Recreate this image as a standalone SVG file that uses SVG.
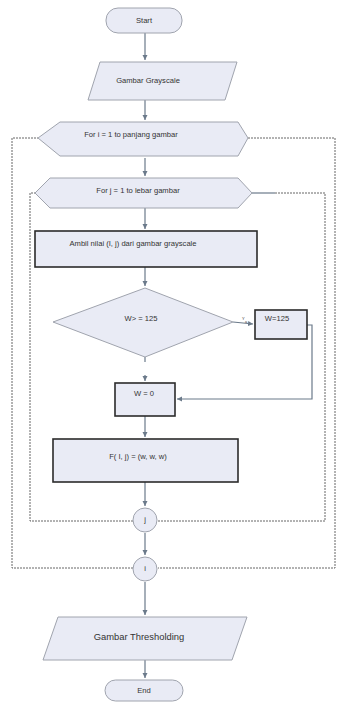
<svg xmlns="http://www.w3.org/2000/svg" width="337" height="708" viewBox="0 0 337 708">
<defs>
<marker id="ah" markerWidth="6" markerHeight="6" refX="5" refY="3" orient="auto" markerUnits="userSpaceOnUse">
<path d="M0,0.5 L5,3 L0,5.5 Z" fill="#6b7a8a"/>
</marker>
<style>
.sh{fill:#e9ebf5;stroke:#a0a4ae;stroke-width:1}
.bx{fill:#e9ebf5;stroke:#2b2b2b;stroke-width:1.6}
.t{font-family:"Liberation Sans",Arial,sans-serif;font-size:7.6px;fill:#333;text-anchor:middle;dominant-baseline:middle}
.c{fill:none;stroke:#6b7a8a;stroke-width:1.2}
.d{fill:none;stroke:#666;stroke-width:1;stroke-dasharray:2,1}
</style>
</defs>
<rect width="337" height="708" fill="#ffffff"/>
<g id="connectors">
<path class="c" d="M145,33 V60" marker-end="url(#ah)"/>
<path class="c" d="M145,100 V120" marker-end="url(#ah)"/>
<path class="c" d="M145,158 V176" marker-end="url(#ah)"/>
<path class="c" d="M145,208 V229" marker-end="url(#ah)"/>
<path class="c" d="M145,267 V286" marker-end="url(#ah)"/>
<path class="c" d="M145,357 V362"/>
<path class="c" d="M145,375 V381" marker-end="url(#ah)"/>
<path class="c" d="M233,322 L253,324" marker-end="url(#ah)"/>
<path class="c" d="M307,325 H312 V399 H177" marker-end="url(#ah)"/>
<path class="c" d="M145,416 V437" marker-end="url(#ah)"/>
<path class="c" d="M145,482 V506" marker-end="url(#ah)"/>
<path class="c" d="M145,533 V555" marker-end="url(#ah)"/>
<path class="c" d="M145,582 V615" marker-end="url(#ah)"/>
<path class="c" d="M145,660 V678" marker-end="url(#ah)"/>
<path class="c" d="M252,193 H275"/>
<path class="d" d="M275,193 H325 V521 H158"/>
<path class="d" d="M133,521 H30 V193 H35"/>
<path class="d" d="M248,138 H335 V568 H158"/>
<path class="d" d="M133,568 H12 V138 H38"/>
<text x="242" y="320" style="font-family:'Liberation Sans',sans-serif;font-size:4px;fill:#333">Y</text>
<text x="245" y="323" style="font-family:'Liberation Sans',sans-serif;font-size:4px;fill:#333">a</text>
</g>
<g id="start">
<rect class="sh" x="106" y="8" width="76" height="25" rx="12"/>
<text class="t" x="144" y="20.5">Start</text>
</g>
<g id="gambar-grayscale">
<polygon class="sh" points="100,62 237,62 225,100 88,100"/>
<text class="t" x="148" y="81">Gambar Grayscale</text>
</g>
<g id="for-i">
<polygon class="sh" points="38,138 60,122 238,122 248,138 238,156 60,156"/>
<text class="t" x="131" y="135">For i = 1 to panjang gambar</text>
</g>
<g id="for-j">
<polygon class="sh" points="35,193 50,178 238,178 252,193 238,208 50,208"/>
<text class="t" x="138" y="191">For j = 1 to lebar gambar</text>
</g>
<g id="ambil">
<rect class="bx" x="35" y="231" width="222" height="36"/>
<text class="t" x="133" y="244">Ambil nilai (I, j) dari gambar grayscale</text>
</g>
<g id="decision">
<polygon class="sh" points="53,322 145,288 233,322 145,357"/>
<text class="t" x="141" y="319">W&gt; = 125</text>
</g>
<g id="w125">
<rect class="bx" x="255" y="310" width="52" height="29"/>
<text class="t" x="277" y="319">W=125</text>
</g>
<g id="w0">
<rect class="bx" x="115" y="383" width="60" height="33"/>
<text class="t" x="144" y="394">W = 0</text>
</g>
<g id="f">
<rect class="bx" x="53" y="439" width="185" height="43"/>
<text class="t" x="138" y="457">F( I, j) = (w, w, w)</text>
</g>
<g id="circle-j">
<circle class="sh" cx="145" cy="520" r="12"/>
<text class="t" x="145" y="520">j</text>
</g>
<g id="circle-i">
<circle class="sh" cx="145" cy="569" r="12"/>
<text class="t" x="145" y="569">i</text>
</g>
<g id="gambar-thresholding">
<polygon class="sh" points="58,617 247,617 232,660 43,660"/>
<text class="t" x="139" y="638" style="font-size:9.4px">Gambar Thresholding</text>
</g>
<g id="end">
<rect class="sh" x="105" y="680" width="78" height="21" rx="10.5"/>
<text class="t" x="144" y="691">End</text>
</g>
</svg>
